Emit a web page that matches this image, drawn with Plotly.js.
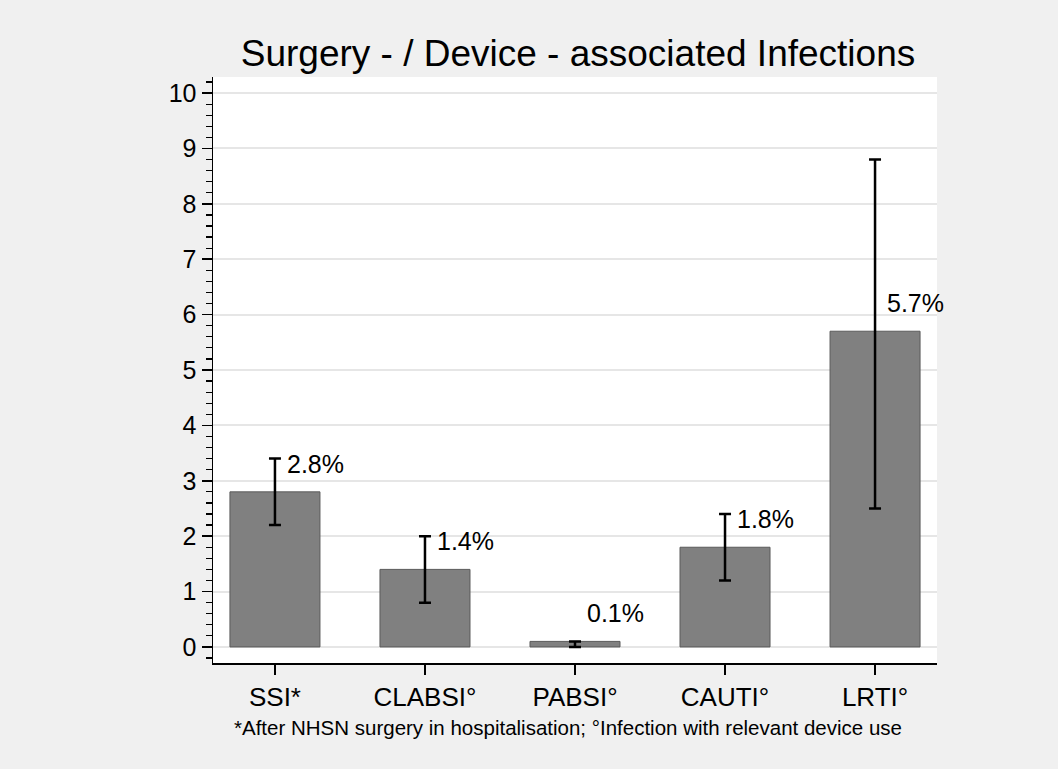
<!DOCTYPE html>
<html>
<head>
<meta charset="utf-8">
<script src="https://cdn.plot.ly/plotly-3.0.1.min.js"></script>
<style>html,body{margin:0;padding:0;background:#f0f0f0;}#chart{width:1058px;height:769px;}</style>
</head>
<body>
<div id="chart"></div>
<script>
const categories = ["SSI*", "CLABSI°", "PABSI°", "CAUTI°", "LRTI°"];
const values = [2.8, 1.4, 0.1, 1.8, 5.7];
const lowerCI = [2.2, 0.8, 0.0, 1.2, 2.5];
const upperCI = [3.4, 2.0, 0.1, 2.4, 8.8];
const valueLabels = ["2.8%", "1.4%", "0.1%", "1.8%", "5.7%"];
const yTickVals = [0, 1, 2, 3, 4, 5, 6, 7, 8, 9, 10];
const titleText = "Surgery - / Device - associated Infections";
const noteText = "*After NHSN surgery in hospitalisation; °Infection with relevant device use";

const FONT = "Liberation Sans, Arial, Helvetica, sans-serif";
const xIdx = categories.map((c, i) => i);

const trace = {
  type: "bar",
  x: xIdx,
  y: values,
  width: 0.6,
  marker: {color: "#808080", line: {color: "#5a5a5a", width: 1}},
  error_y: {
    type: "data",
    symmetric: false,
    array: values.map((v, i) => upperCI[i] - v),
    arrayminus: values.map((v, i) => v - lowerCI[i]),
    color: "#000000",
    thickness: 2.5,
    width: 6
  },
  hoverinfo: "none"
};

const annotations = values.map((v, i) => ({
  x: xIdx[i], y: v, xref: "x", yref: "y",
  text: valueLabels[i], showarrow: false,
  xanchor: "left", yanchor: "middle",
  xshift: 10, yshift: 28,
  font: {family: FONT, size: 25, color: "#000"}
}));
annotations.push({
  x: (568 - 213) / (937 - 213), y: -(727 - 663) / (663 - 77),
  xref: "paper", yref: "paper",
  text: noteText, showarrow: false,
  xanchor: "center", yanchor: "middle",
  font: {family: FONT, size: 20.5, color: "#000"}
});

const layout = {
  width: 1058, height: 769,
  paper_bgcolor: "#f0f0f0",
  plot_bgcolor: "#ffffff",
  margin: {l: 213, r: 121, t: 77, b: 106, pad: 0},
  showlegend: false,
  font: {family: FONT, color: "#000"},
  title: {
    text: titleText,
    font: {family: FONT, size: 37, color: "#000"},
    x: 578 / 1058, xanchor: "center", xref: "container",
    y: 1 - 53 / 769, yanchor: "middle", yref: "container"
  },
  xaxis: {
    range: [-0.413, 4.413],
    tickmode: "array",
    tickvals: xIdx,
    ticktext: categories,
    ticks: "outside", ticklen: 10, tickwidth: 1.5, tickcolor: "#000",
    showline: true, linecolor: "#000", linewidth: 1.5,
    showgrid: false, zeroline: false,
    tickfont: {family: FONT, size: 26, color: "#000"}
  },
  yaxis: {
    range: [-0.29, 10.29],
    tickmode: "array",
    tickvals: yTickVals,
    ticks: "outside", ticklen: 10, tickwidth: 1.5, tickcolor: "#000",
    showline: true, linecolor: "#000", linewidth: 1.5,
    showgrid: true, gridcolor: "#e6e6e6", gridwidth: 2,
    zeroline: false,
    tickfont: {family: FONT, size: 25, color: "#000"},
    minor: {dtick: 0.2, tick0: 0, ticks: "outside", ticklen: 6, tickwidth: 1.2, tickcolor: "#000", showgrid: false}
  },
  annotations: annotations
};

Plotly.newPlot("chart", [trace], layout, {displayModeBar: false, staticPlot: true});
</script>
</body>
</html>
